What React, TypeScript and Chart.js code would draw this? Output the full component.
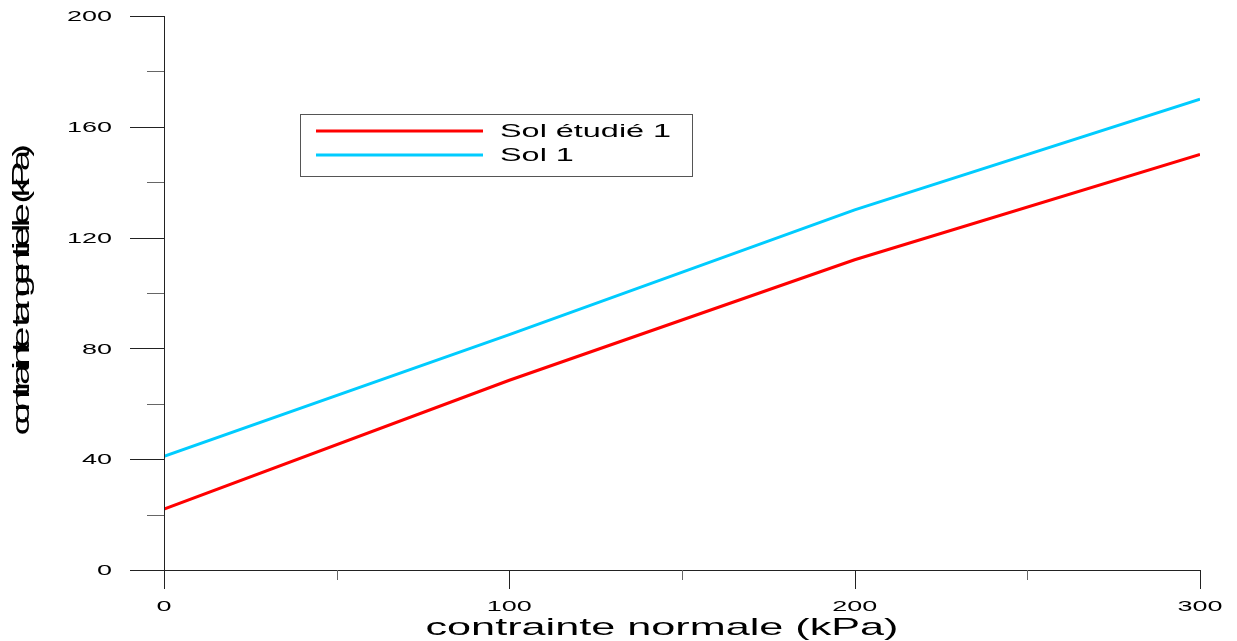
import React, { useEffect, useRef } from "react";
import { Chart, registerables } from "chart.js";

Chart.register(...registerables);

const xValues = [0, 100, 200, 300];
const solEtudie = [22, 68.5, 112, 150];
const sol1 = [41, 85, 130, 170];
const seriesLabels = ["Sol étudié 1", "Sol 1"];
const seriesColors = ["#ff0000", "#00ccff"];
const xMajor = [0, 100, 200, 300];
const xMinor = [50, 150, 250];
const yMajor = [0, 40, 80, 120, 160, 200];
const yMinor = [20, 60, 100, 140, 180];
const xTitle = "contrainte normale (kPa)";
const yTitle = "contrainte tangentielle (kPa)";

const FONT = "Arial, 'Liberation Sans', Helvetica, sans-serif";
const STRETCH = 1.8;

function stretchedText(
  ctx: CanvasRenderingContext2D,
  text: string,
  x: number,
  y: number,
  size: number,
  align: "left" | "center" | "right"
) {
  ctx.save();
  ctx.font = `${size}px ${FONT}`;
  ctx.textBaseline = "middle";
  ctx.textAlign = align;
  ctx.translate(x, y);
  ctx.scale(STRETCH, 1);
  ctx.fillText(text, 0, 0);
  ctx.restore();
}

const axesPlugin = {
  id: "customAxes",
  afterDraw(chart: any) {
    const ctx = chart.ctx as CanvasRenderingContext2D;
    const xs = chart.scales.x;
    const ys = chart.scales.y;
    const x0 = Math.round(xs.getPixelForValue(0));
    const y0 = Math.round(ys.getPixelForValue(0));
    ctx.save();
    ctx.strokeStyle = "#222";
    ctx.lineWidth = 1;
    ctx.beginPath();
    ctx.moveTo(x0 + 0.5, ys.getPixelForValue(200));
    ctx.lineTo(x0 + 0.5, y0);
    ctx.moveTo(x0, y0 + 0.5);
    ctx.lineTo(xs.getPixelForValue(300), y0 + 0.5);
    ctx.stroke();
    ctx.beginPath();
    yMajor.forEach((v) => {
      const p = Math.round(ys.getPixelForValue(v)) + 0.5;
      ctx.moveTo(x0 - 34, p);
      ctx.lineTo(x0, p);
    });
    ctx.stroke();
    ctx.strokeStyle = "#666";
    ctx.beginPath();
    yMinor.forEach((v) => {
      const p = Math.round(ys.getPixelForValue(v)) + 0.5;
      ctx.moveTo(x0 - 17, p);
      ctx.lineTo(x0, p);
    });
    ctx.stroke();
    ctx.strokeStyle = "#222";
    ctx.beginPath();
    xMajor.forEach((v) => {
      const p = Math.round(xs.getPixelForValue(v)) + 0.5;
      ctx.moveTo(p, y0);
      ctx.lineTo(p, y0 + 19);
    });
    ctx.stroke();
    ctx.strokeStyle = "#666";
    ctx.beginPath();
    xMinor.forEach((v) => {
      const p = Math.round(xs.getPixelForValue(v)) + 0.5;
      ctx.moveTo(p, y0);
      ctx.lineTo(p, y0 + 10);
    });
    ctx.stroke();

    ctx.fillStyle = "#000";
    yMajor.forEach((v) => {
      stretchedText(ctx, String(v), 112, ys.getPixelForValue(v) + 1, 15, "right");
    });
    xMajor.forEach((v) => {
      stretchedText(ctx, String(v), xs.getPixelForValue(v), y0 + 37, 15, "center");
    });
    stretchedText(ctx, xTitle, 662, 628, 24, "center");

    // y title: stretched glyphs at compressed advances (overlapping)
    ctx.save();
    ctx.translate(22, 289);
    ctx.rotate(-Math.PI / 2);
    ctx.font = `24px ${FONT}`;
    ctx.textBaseline = "middle";
    ctx.textAlign = "center";
    const natural = ctx.measureText(yTitle).width;
    const target = 285;
    const k = target / natural;
    for (let i = 0; i < yTitle.length; i++) {
      const ch = yTitle[i];
      const start = ctx.measureText(yTitle.slice(0, i)).width;
      const w = ctx.measureText(ch).width;
      const cx = -target / 2 + (start + w / 2) * k;
      ctx.save();
      ctx.translate(cx, 0);
      ctx.scale(STRETCH * 0.9, 1);
      ctx.fillText(ch, 0, 0);
      ctx.restore();
    }
    ctx.restore();

    // legend
    ctx.strokeStyle = "#555";
    ctx.lineWidth = 1;
    ctx.strokeRect(300.5, 114.5, 392, 62);
    seriesLabels.forEach((lab, i) => {
      const yy = 131 + i * 24;
      ctx.strokeStyle = seriesColors[i];
      ctx.lineWidth = 3;
      ctx.beginPath();
      ctx.moveTo(316, yy);
      ctx.lineTo(483, yy);
      ctx.stroke();
      ctx.fillStyle = "#000";
      stretchedText(ctx, lab, 500, yy + 1, 18, "left");
    });
    ctx.restore();
  },
};

export default function App() {
  const ref = useRef<HTMLCanvasElement>(null);
  useEffect(() => {
    document.body.style.margin = "0";
    const chart = new Chart(ref.current!, {
      type: "line",
      data: {
        datasets: [
          {
            label: seriesLabels[0],
            data: xValues.map((x, i) => ({ x, y: solEtudie[i] })),
            borderColor: seriesColors[0],
            borderWidth: 3,
            pointRadius: 0,
            tension: 0,
          },
          {
            label: seriesLabels[1],
            data: xValues.map((x, i) => ({ x, y: sol1[i] })),
            borderColor: seriesColors[1],
            borderWidth: 3,
            pointRadius: 0,
            tension: 0,
          },
        ],
      },
      options: {
        animation: false,
        responsive: false,
        maintainAspectRatio: false,
        layout: { padding: { left: 0, right: 37, top: 16, bottom: 0 } },
        plugins: { legend: { display: false }, tooltip: { enabled: false } },
        scales: {
          x: {
            type: "linear",
            min: 0,
            max: 300,
            grid: { display: false },
            border: { display: false },
            ticks: { display: false },
            afterFit: (s: any) => {
              s.height = 71;
            },
          },
          y: {
            min: 0,
            max: 200,
            grid: { display: false },
            border: { display: false },
            ticks: { display: false },
            afterFit: (s: any) => {
              s.width = 164;
            },
          },
        },
      },
      plugins: [axesPlugin],
    });
    return () => chart.destroy();
  }, []);
  return (
    <div style={{ width: 1237, height: 641, background: "#fff" }}>
      <canvas ref={ref} width={1237} height={641} style={{ display: "block" }} />
    </div>
  );
}
